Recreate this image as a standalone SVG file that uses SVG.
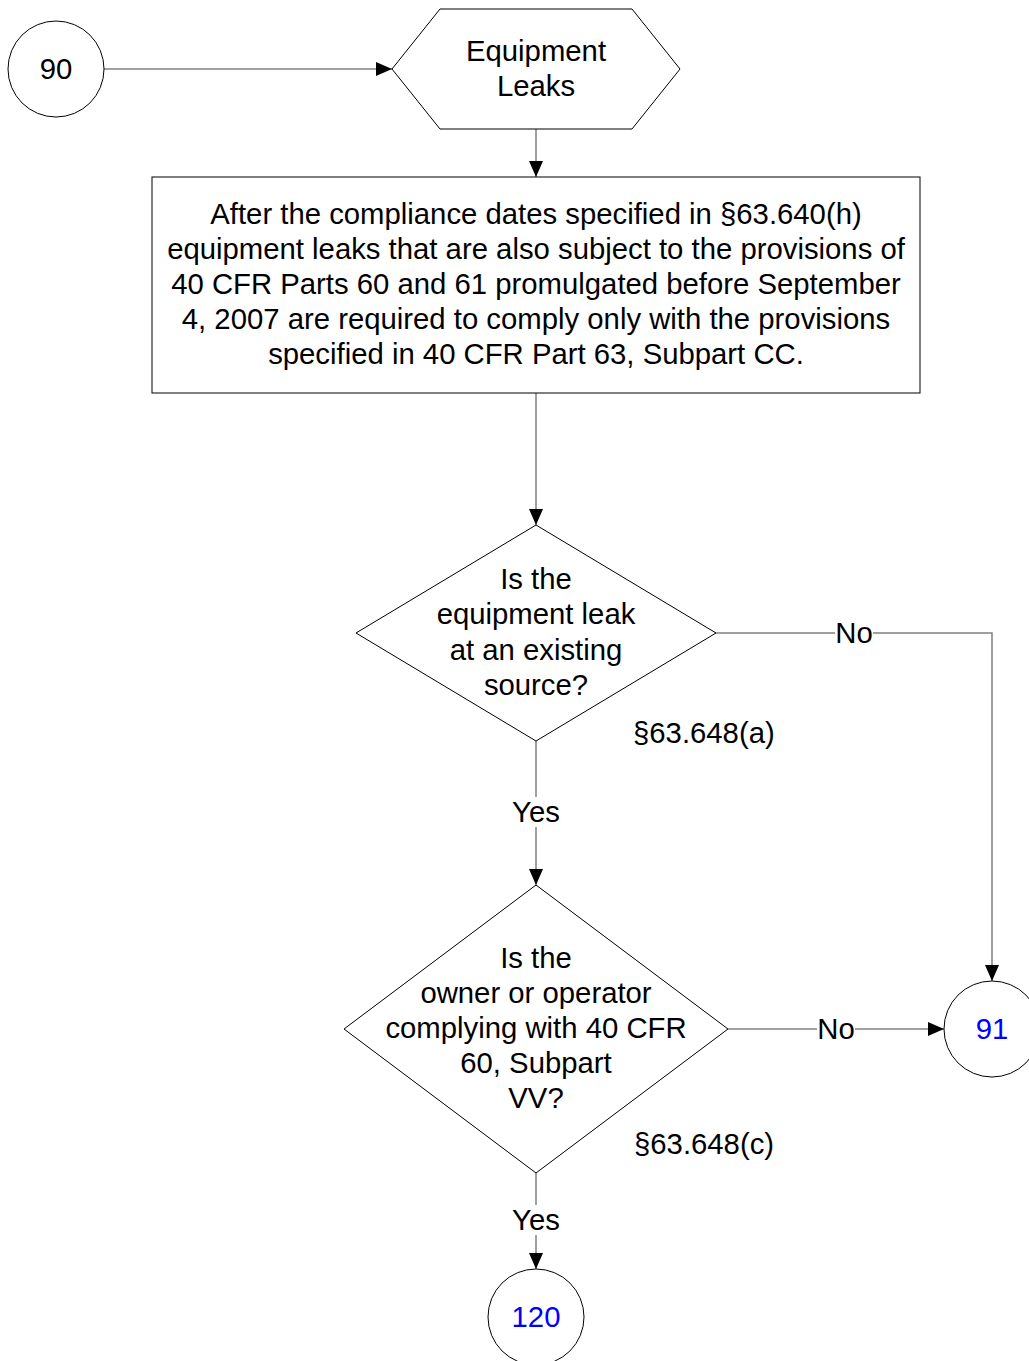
<svg xmlns="http://www.w3.org/2000/svg" width="1029" height="1361" viewBox="0 0 1029 1361">
<style>
.shape{fill:#fff;stroke:#000;stroke-width:1}
.conn{fill:none;stroke:#808080;stroke-width:1.5}
text{font-family:"Liberation Sans",Arial,sans-serif;font-size:29.3px;fill:#000;text-anchor:middle;dominant-baseline:central}
.blue{fill:#0000ff}
.lbl{fill:#fff;stroke:none}
.ref{text-anchor:start}
</style>
<defs>
<marker id="arr" markerWidth="16" markerHeight="14" refX="16" refY="7" orient="auto" markerUnits="userSpaceOnUse">
<path d="M0,0 L16,7 L0,14 Z" fill="#000"/>
</marker>
</defs>
<rect width="1029" height="1361" fill="#fff"/>
<g id="connectors">
<path class="conn" d="M104,69 H392" marker-end="url(#arr)"/>
<path class="conn" d="M536,129 V177" marker-end="url(#arr)"/>
<path class="conn" d="M536,393 V525" marker-end="url(#arr)"/>
<path class="conn" d="M716,633 H992 V981" marker-end="url(#arr)"/>
<path class="conn" d="M536,741 V885" marker-end="url(#arr)"/>
<path class="conn" d="M728,1029 H944" marker-end="url(#arr)"/>
<path class="conn" d="M536,1173 V1269" marker-end="url(#arr)"/>
<rect class="lbl" x="835" y="618" width="38" height="30"/>
<text x="854" y="632">No</text>
<rect class="lbl" x="817" y="1014" width="38" height="30"/>
<text x="836" y="1028">No</text>
<rect class="lbl" x="509" y="797" width="54" height="30"/>
<text x="536" y="811">Yes</text>
<rect class="lbl" x="509" y="1205" width="54" height="30"/>
<text x="536" y="1219">Yes</text>
</g>
<g id="n90">
<circle class="shape" cx="56" cy="69" r="48"/>
<text x="56" y="68">90</text>
</g>
<g id="equipment-leaks">
<polygon class="shape" points="392,69 440,9 632,9 680,69 632,129 440,129"/>
<text x="536" y="50">Equipment</text>
<text x="536" y="85">Leaks</text>
</g>
<g id="compliance-box">
<rect class="shape" x="152" y="177" width="768" height="216"/>
<text x="536" y="213">After the compliance dates specified in §63.640(h)</text>
<text x="536" y="248">equipment leaks that are also subject to the provisions of</text>
<text x="536" y="283">40 CFR Parts 60 and 61 promulgated before September</text>
<text x="536" y="318">4, 2007 are required to comply only with the provisions</text>
<text x="536" y="353">specified in 40 CFR Part 63, Subpart CC.</text>
</g>
<g id="existing-source">
<polygon class="shape" points="536,525 716,633 536,741 356,633"/>
<text x="536" y="578">Is the</text>
<text x="536" y="613">equipment leak</text>
<text x="536" y="649">at an existing</text>
<text x="536" y="684">source?</text>
<text class="ref" x="633" y="732">§63.648(a)</text>
</g>
<g id="complying-vv">
<polygon class="shape" points="536,885 728,1029 536,1173 344,1029"/>
<text x="536" y="957">Is the</text>
<text x="536" y="992">owner or operator</text>
<text x="536" y="1027">complying with 40 CFR</text>
<text x="536" y="1062">60, Subpart</text>
<text x="536" y="1097">VV?</text>
<text class="ref" x="634" y="1143">§63.648(c)</text>
</g>
<g id="n91">
<circle class="shape" cx="992" cy="1029" r="48"/>
<text class="blue" x="992" y="1028">91</text>
</g>
<g id="n120">
<circle class="shape" cx="536" cy="1317" r="48"/>
<text class="blue" x="536" y="1316">120</text>
</g>
</svg>
